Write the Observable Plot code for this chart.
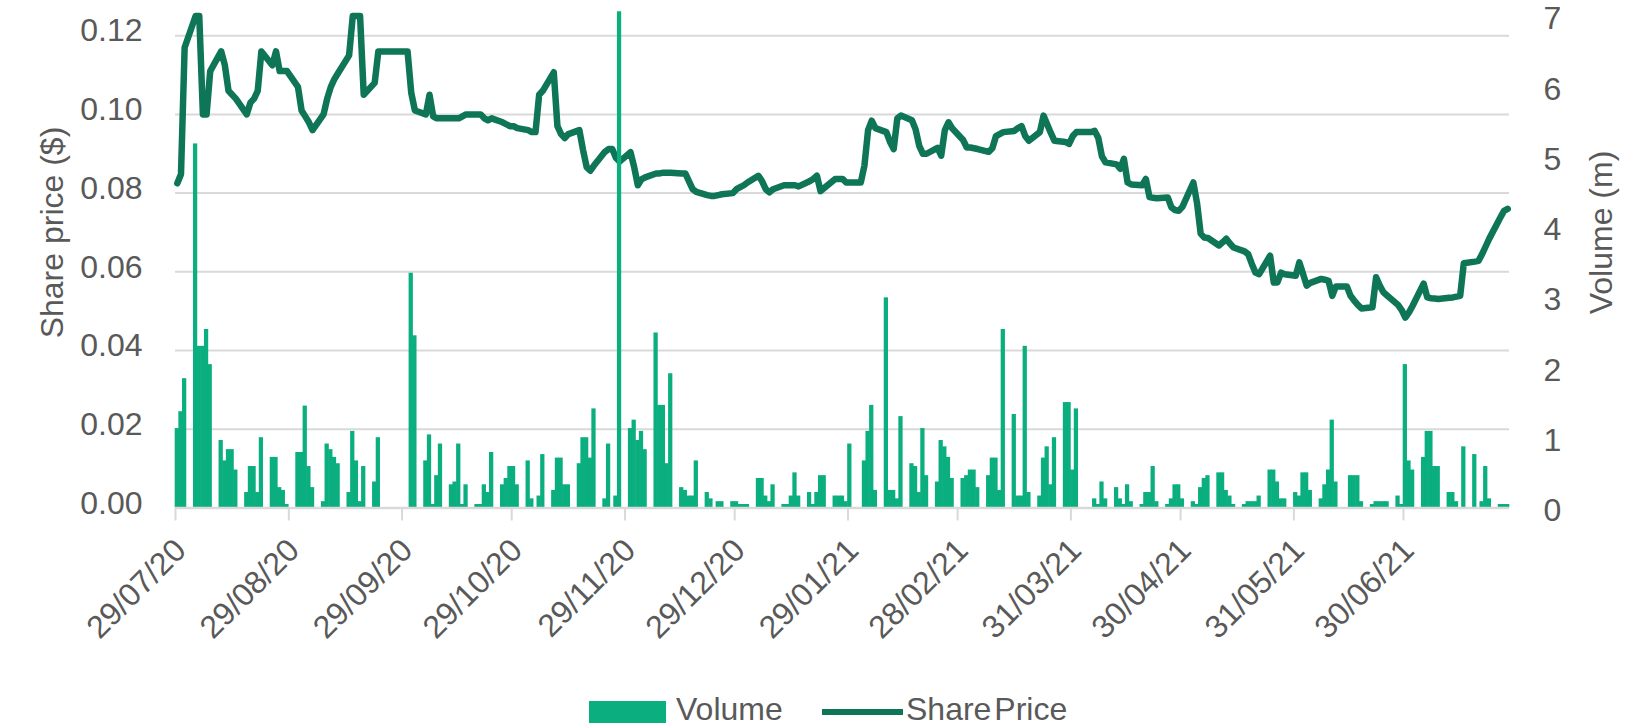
<!DOCTYPE html>
<html>
<head>
<meta charset="utf-8">
<script src="https://cdn.jsdelivr.net/npm/d3@7"></script>
<script src="https://cdn.jsdelivr.net/npm/@observablehq/plot@0.6"></script>
<style>
  html, body { margin: 0; padding: 0; background: #ffffff; }
  body { font-family: "Liberation Sans", Arial, sans-serif; }
  #wrap { position: relative; width: 1649px; height: 727px; background: #fff; }
  #chart svg { display: block; }
  #legend { position: absolute; left: 0; top: 693px; width: 1649px; height: 32px; font-size: 32px; color: #595959; }
  #legend span { position: absolute; }
  .lt { top: 0; line-height: 32px; white-space: nowrap; }
</style>
</head>
<body>
<div id="wrap">
  <div id="chart"></div>
  <div id="legend">
    <span id="swVol" style="left:589px;top:8px;width:77px;height:22px;"></span>
    <span class="lt" style="left:676px;">Volume</span>
    <span id="swPrice" style="left:822px;top:16px;width:81px;height:6px;"></span>
    <span class="lt" style="left:906px;word-spacing:-6px;">Share Price</span>
  </div>
</div>
<script>
// ---- data (one row per week, Mon..Fri; null = outside the period) ----
const firstMonday = "2020-07-27";

const volumeWeeks = [
  [null, null, 1.13, 1.37, 1.84],
  [5.18, 2.30, 2.30, 2.54, 2.04],
  [0.96, 0.67, 0.83, 0.83, 0.54],
  [0.22, 0.59, 0.59, 0.22, 1.00],
  [0.72, 0.72, 0.29, 0.25, 0.05],
  [0.79, 0.79, 1.45, 0.59, 0.29],
  [0.09, 0.91, 0.83, 0.72, 0.63],
  [0.22, 1.09, 0.67, 0.09, 0.59],
  [0.37, 1.00, 0, 0, 0],
  [0, 0, 0, 3.34, 2.45],
  [0.67, 1.04, 0.05, 0.46, 0.91],
  [0.33, 0.37, 0.91, 0.05, 0.33],
  [0.05, 0.05, 0.33, 0.22, 0.79],
  [0.33, 0.42, 0.59, 0.59, 0.33],
  [0.67, 0.13, 0, 0.17, 0.76],
  [0.25, 0.71, 0.71, 0.33, 0.33],
  [0.63, 1.00, 1.00, 0.71, 1.41],
  [0.13, 0.91, 0, 0.17, 7.06],
  [1.13, 1.25, 0.96, 1.09, 0.83],
  [2.49, 1.46, 1.46, 0.63, 1.91],
  [0.29, 0.25, 0.17, 0.17, 0.67],
  [0.22, 0.13, 0, 0.09, 0.09],
  [0.09, 0.09, 0.05, 0.05, 0.05],
  [0.42, 0.42, 0.17, 0.09, 0.33],
  [0.05, 0.05, 0.17, 0.50, 0.17],
  [0.22, 0.05, 0.22, 0.46, 0.46],
  [0.17, 0.17, 0.17, 0.09, 0.91],
  [0, 0.67, 1.09, 1.46, 0.25],
  [2.99, 0.25, 0.25, 0.13, 1.30],
  [0.63, 0.59, 0.22, 1.13, 0.46],
  [0.37, 0.96, 0.87, 0.72, 0.42],
  [0.42, 0.46, 0.54, 0.54, 0.29],
  [0.46, 0.71, 0.71, 0.25, 2.54],
  [1.33, 0.17, 0.17, 2.30, 0.22],
  [0.17, 0.71, 0.87, 0.33, 1.00],
  [1.50, 1.50, 0.54, 1.41, 0],
  [0, 0.13, 0.05, 0.37, 0.13],
  [0.29, 0.13, 0.05, 0.33, 0.09],
  [0.05, 0.22, 0.22, 0.59, 0.09],
  [0.05, 0.13, 0.33, 0.33, 0.13],
  [0.09, 0.05, 0.29, 0.42, 0.46],
  [0.50, 0.50, 0.25, 0.17, 0.05],
  [0.05, 0.09, 0.09, 0.09, 0.17],
  [0.54, 0.54, 0.37, 0.13, 0.13],
  [0.22, 0.17, 0.50, 0.50, 0.25],
  [0.13, 0.33, 0.54, 1.25, 0.37],
  [0, 0.46, 0.46, 0.46, 0.09],
  [0.05, 0.09, 0.09, 0.09, 0.09],
  [0.17, 0.05, 2.04, 0.67, 0.54],
  [0.72, 1.09, 1.09, 0.59, 0.59],
  [0.22, 0.22, 0.09, 0, 0.87],
  [0.76, 0, 0.09, 0.59, 0.13],
  [0.05, 0.05, 0.05, null, null]
];

const priceWeeks = [
  [null, null, 0.0825, 0.0848, 0.117],
  [0.125, 0.125, 0.100, 0.100, 0.111],
  [0.116, 0.1125, 0.106, 0.105, 0.104],
  [0.100, 0.103, 0.104, 0.106, 0.116],
  [0.1125, 0.116, 0.111, 0.111, 0.111],
  [0.107, 0.101, 0.0995, 0.098, 0.096],
  [0.100, 0.104, 0.107, 0.109, 0.1105],
  [0.115, 0.125, 0.125, 0.125, 0.105],
  [0.108, 0.116, 0.116, 0.116, 0.116],
  [0.116, 0.116, 0.116, 0.1055, 0.101],
  [0.100, 0.105, 0.0995, 0.099, 0.099],
  [0.099, 0.099, 0.099, 0.0995, 0.100],
  [0.100, 0.100, 0.099, 0.0985, 0.099],
  [0.098, 0.0975, 0.097, 0.097, 0.0965],
  [0.096, 0.0955, 0.0955, 0.105, 0.106],
  [0.1107, 0.097, 0.095, 0.094, 0.095],
  [0.096, 0.091, 0.0866, 0.0857, 0.087],
  [0.0905, 0.0912, 0.0912, 0.089, 0.088],
  [0.0904, 0.0866, 0.082, 0.0835, 0.084],
  [0.085, 0.085, 0.0852, 0.0852, 0.0852],
  [0.085, 0.085, 0.083, 0.081, 0.0803],
  [0.0795, 0.0793, 0.0793, 0.0795, 0.0797],
  [0.080, 0.081, 0.0815, 0.082, 0.0827],
  [0.0844, 0.083, 0.081, 0.0802, 0.081],
  [0.082, 0.082, 0.082, 0.082, 0.0817],
  [0.083, 0.0836, 0.0844, 0.0805, 0.0813],
  [0.0836, 0.0836, 0.0836, 0.0827, 0.0827],
  [0.0827, 0.087, 0.096, 0.0984, 0.0965],
  [0.0955, 0.093, 0.0912, 0.099, 0.0997],
  [0.0985, 0.0962, 0.092, 0.090, 0.090],
  [0.0915, 0.0895, 0.096, 0.098, 0.0965],
  [0.0935, 0.0916, 0.0916, 0.0914, 0.0912],
  [0.0905, 0.0914, 0.0945, 0.095, 0.0955],
  [0.0958, 0.0965, 0.097, 0.0945, 0.0933],
  [0.0955, 0.0997, 0.0975, 0.0953, 0.0933],
  [0.093, 0.0925, 0.0945, 0.0955, 0.0955],
  [0.0955, 0.0958, 0.094, 0.0893, 0.0878],
  [0.0873, 0.0862, 0.0887, 0.0827, 0.0822],
  [0.082, 0.0836, 0.079, 0.0788, 0.0787],
  [0.0789, 0.0764, 0.0757, 0.0755, 0.0765],
  [0.0827, 0.0775, 0.0697, 0.0687, 0.0686],
  [0.0667, 0.0675, 0.0684, 0.0672, 0.0662],
  [0.0652, 0.0645, 0.062, 0.0598, 0.0594],
  [0.0641, 0.0573, 0.0573, 0.0598, 0.0594],
  [0.059, 0.0624, 0.0595, 0.0565, 0.0572],
  [0.0582, 0.058, 0.0577, 0.0539, 0.0563],
  [0.0563, 0.0539, 0.0527, 0.0516, 0.0507],
  [0.051, 0.0586, 0.0565, 0.0548, 0.054],
  [0.0516, 0.0503, 0.0484, 0.0497, 0.0514],
  [0.057, 0.0535, 0.0533, 0.0532, 0.0531],
  [0.0534, 0.0535, 0.0537, 0.0539, 0.0622],
  [0.0626, 0.0628, 0.0645, 0.0665, 0.0685],
  [0.0738, 0.0755, 0.076, null, null]
];

const tickDates = ["2020-07-29", "2020-08-29", "2020-09-29", "2020-10-29", "2020-11-29", "2020-12-29",
                   "2021-01-29", "2021-02-28", "2021-03-31", "2021-04-30", "2021-05-31", "2021-06-30"];
const tickLabels = ["29/07/20", "29/08/20", "29/09/20", "29/10/20", "29/11/20", "29/12/20",
                    "29/01/21", "28/02/21", "31/03/21", "30/04/21", "31/05/21", "30/06/21"];
const priceTicks = [0, 0.02, 0.04, 0.06, 0.08, 0.10, 0.12];
const volumeTicks = [0, 1, 2, 3, 4, 5, 6, 7];
const priceMax = 0.125;
const volumeMax = 7;
const xStart = "2020-07-29";
const xEnd = "2021-07-29";

const volColor = "#0aae7f";
const priceColor = "#0e7557";
const textColor = "#595959";
const gridColor = "#d9d9d9";

// ---- build tables ----
const DAY = 864e5;
const t0 = new Date(firstMonday + "T00:00:00Z").getTime();
const volRows = [];
const priceRows = [];
volumeWeeks.forEach((week, k) => week.forEach((v, i) => {
  if (v == null) return;
  const t = t0 + (7 * k + i) * DAY;
  volRows.push({date: new Date(t), next: new Date(t + DAY), volume: v});
}));
priceWeeks.forEach((week, k) => week.forEach((p, i) => {
  if (p == null) return;
  const t = t0 + (7 * k + i) * DAY;
  priceRows.push({mid: new Date(t + DAY / 2), price: p});
}));
const ticks = tickDates.map(s => new Date(s + "T00:00:00Z"));
const kv = priceMax / volumeMax;   // volume -> price-axis units

const font = "Liberation Sans, Arial, sans-serif";

const chart = Plot.plot({
  width: 1649,
  height: 693,
  marginLeft: 175,
  marginRight: 140,
  marginTop: 15.5,
  marginBottom: 185.5,
  style: {fontFamily: font, background: "#ffffff", overflow: "visible"},
  x: {type: "utc", domain: [new Date(xStart + "T00:00:00Z"), new Date(xEnd + "T00:00:00Z")], axis: null, label: null},
  y: {domain: [0, priceMax], axis: null, label: null},
  marks: [
    Plot.ruleY(priceTicks.filter(d => d > 0), {stroke: gridColor, strokeWidth: 2}),
    Plot.line(priceRows, {x: "mid", y: "price", stroke: priceColor, strokeWidth: 6.5, strokeLinejoin: "round", strokeLinecap: "round"}),
    Plot.rectY(volRows, {x1: "date", x2: "next", y: d => d.volume * kv, fill: volColor, insetLeft: -0.3, insetRight: -0.3}),
    Plot.ruleY([0], {stroke: gridColor, strokeWidth: 2.5}),
    Plot.axisX({ticks: ticks, tickSize: 13, tickFormat: () => "", stroke: gridColor, strokeWidth: 2, label: null}),
    Plot.text(ticks, {x: d => d, text: (d, i) => tickLabels[i], frameAnchor: "bottom", dy: 37, dx: 5,
      rotate: -45, textAnchor: "end", lineAnchor: "middle", fontSize: 32, fill: textColor, ariaLabel: "xlabels"}),
    Plot.axisY({ticks: priceTicks, tickFormat: d3.format(".2f"), anchor: "left", tickSize: 0, tickPadding: 33,
      fontSize: 32, color: textColor, label: null, dy: -4.5}),
    Plot.axisY({ticks: volumeTicks.map(v => v * kv), tickFormat: d => String(Math.round(d / kv)), anchor: "right",
      tickSize: 0, tickPadding: 34, fontSize: 32, color: textColor, label: null, dy: 3}),
    Plot.text(["Share price ($)"], {frameAnchor: "left", dx: -123, dy: -29.5, rotate: -90, fontSize: 32,
      fill: textColor, textAnchor: "middle", lineAnchor: "middle"}),
    Plot.text(["Volume (m)"], {frameAnchor: "right", dx: 92, dy: -29.5, rotate: -90, fontSize: 32,
      fill: textColor, textAnchor: "middle", lineAnchor: "middle"})
  ]
});
// the reference's date labels set slightly wider than this font
d3.select(chart).selectAll('g[aria-label="xlabels"] text').attr("letter-spacing", "1.6px");
document.getElementById("chart").appendChild(chart);
document.getElementById("swVol").style.background = volColor;
document.getElementById("swPrice").style.background = priceColor;
</script>
</body>
</html>
